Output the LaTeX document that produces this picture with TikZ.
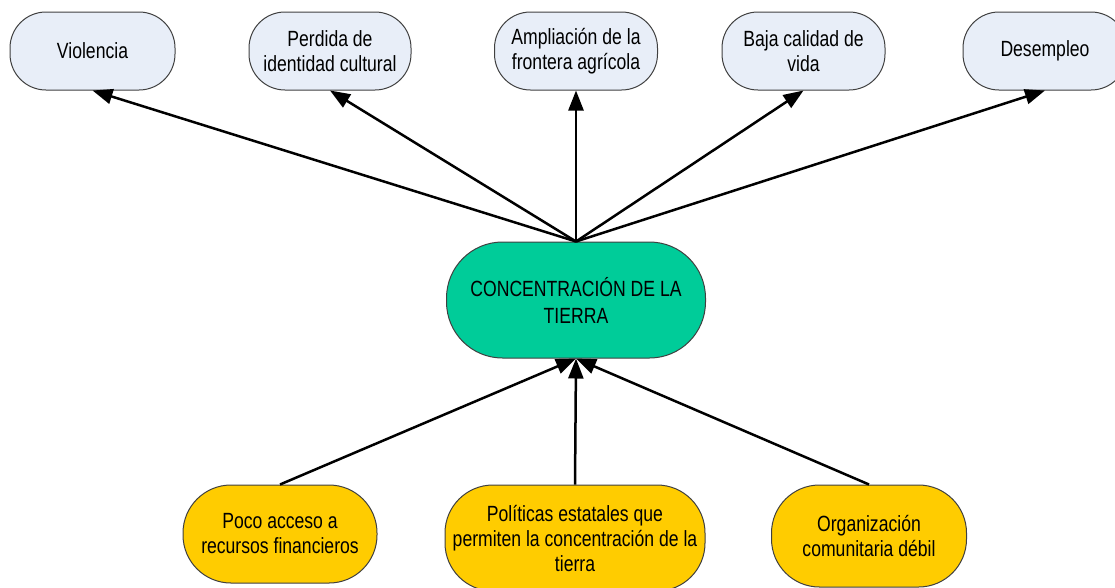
\documentclass[tikz,border=0pt]{standalone}
\usepackage{fontspec}
\setmainfont{Liberation Sans}[FakeStretch=0.8]
\usetikzlibrary{arrows.meta}
\definecolor{topfill}{HTML}{E8EEF8}
\definecolor{midfill}{HTML}{00CC99}
\definecolor{botfill}{HTML}{FFCC00}
\definecolor{edge}{HTML}{404040}
\tikzset{
  box/.style={draw=edge, line width=1pt, rectangle, inner sep=0pt, align=center,
    font=\fontsize{22}{25}\selectfont},
  topbox/.style={box, fill=topfill, minimum height=78pt, rounded corners=36pt},
  midbox/.style={box, fill=midfill, minimum width=259pt, minimum height=116pt, rounded corners=56pt,
    font=\fontsize{22}{27}\selectfont},
  botbox/.style={box, fill=botfill, rounded corners=48pt},
  arr/.style={line width=2.5pt, -{Triangle[length=20pt,width=15pt]}}
}
\begin{document}
\begin{tikzpicture}[x=1pt,y=-1pt]
\useasboundingbox (0,0) rectangle (1115,587);
\node[topbox, minimum width=165pt] (v) at (92.5,51) {Violencia};
\node[topbox, minimum width=162pt] (p) at (330,51) {Perdida de\\identidad cultural};
\node[topbox, minimum width=163pt] (a) at (576,51) {Ampliación de la\\frontera agrícola};
\node[topbox, minimum width=163pt] (b) at (803.5,51) {Baja calidad de\\vida};
\node[topbox, minimum width=164pt] (d) at (1045,51) {Desempleo};
\node[midbox] (c) at (576,300) {CONCENTRACIÓN DE LA\\TIERRA};
\node[botbox, minimum width=194pt, minimum height=98pt] (l) at (280,534) {Poco acceso a\\recursos financieros};
\node[botbox, minimum width=260pt, minimum height=106pt] (m) at (575,538) {Políticas estatales que\\permiten la concentración de la\\tierra};
\node[botbox, minimum width=195pt, minimum height=102pt] (r) at (869,536) {Organización\\comunitaria débil};
\foreach \t in {v,p,a,b,d} \draw[arr] (c.north) -- (\t.south);
\foreach \s in {l,m,r} \draw[arr] (\s.north) -- (c.south);
\end{tikzpicture}
\end{document}
